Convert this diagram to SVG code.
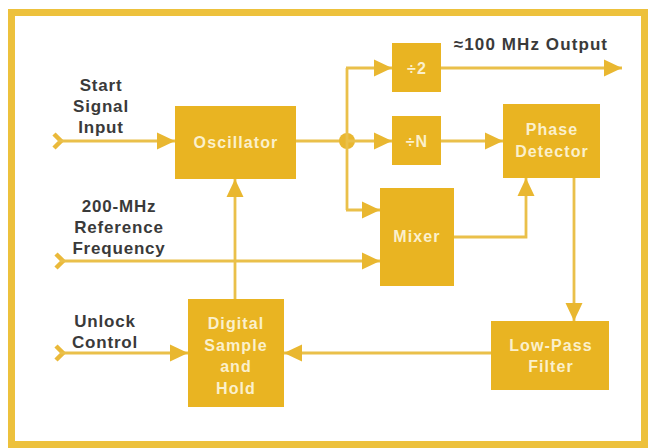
<svg xmlns="http://www.w3.org/2000/svg" width="653" height="448" viewBox="0 0 653 448">
<defs>
<style>
.box{fill:#E9B422;}
.bt{font-family:"Liberation Sans",Arial,sans-serif;font-weight:bold;font-size:16px;fill:#FBF0CC;text-anchor:middle;letter-spacing:1.1px;}
.lb{font-family:"Liberation Sans",Arial,sans-serif;font-weight:bold;font-size:17px;fill:#3A3A3A;text-anchor:middle;letter-spacing:0.8px;}
.ln{fill:none;stroke:#EAC04A;stroke-width:2.8;}
.chev{fill:none;stroke:#EAB93A;stroke-width:4.5;stroke-linejoin:miter;}
</style>
<marker id="ah" markerUnits="userSpaceOnUse" markerWidth="20" markerHeight="20" viewBox="0 0 20 20" refX="18" refY="10" orient="auto">
<path d="M0,1.5 L18,10 L0,18.5 Z" fill="#E9B730"/>
</marker>
</defs>
<rect x="0" y="0" width="653" height="448" fill="#FFFFFF"/>
<rect x="11.5" y="12.5" width="633" height="432" fill="#FFFFFF" stroke="#EDC13C" stroke-width="7"/>

<g id="connectors">
<polyline class="chev" points="54,134 61,141 54,148"/>
<line class="ln" x1="58" y1="141" x2="175" y2="141" marker-end="url(#ah)"/>
<line class="ln" x1="296" y1="141" x2="347" y2="141"/>
<circle cx="347" cy="141" r="8" fill="#E9B730"/>
<line class="ln" x1="347" y1="68" x2="347" y2="210"/>
<line class="ln" x1="346" y1="68" x2="392" y2="68" marker-end="url(#ah)"/>
<line class="ln" x1="347" y1="141" x2="392" y2="141" marker-end="url(#ah)"/>
<line class="ln" x1="346" y1="210" x2="380" y2="210" marker-end="url(#ah)"/>
<line class="ln" x1="441" y1="68" x2="622" y2="68" marker-end="url(#ah)"/>
<line class="ln" x1="441" y1="141" x2="503" y2="141" marker-end="url(#ah)"/>
<polyline class="ln" points="454,237 526,237 526,178" marker-end="url(#ah)"/>
<line class="ln" x1="574" y1="178" x2="574" y2="321" marker-end="url(#ah)"/>
<line class="ln" x1="491" y1="353" x2="284" y2="353" marker-end="url(#ah)"/>
<polyline class="chev" points="56,346 63,353 56,360"/>
<line class="ln" x1="60" y1="353" x2="188" y2="353" marker-end="url(#ah)"/>
<line class="ln" x1="235" y1="299" x2="235" y2="179" marker-end="url(#ah)"/>
<polyline class="chev" points="56,254 63,261 56,268"/>
<line class="ln" x1="60" y1="261" x2="380" y2="261" marker-end="url(#ah)"/>
</g>

<g id="labels">
<text class="lb" x="101" y="91">Start</text>
<text class="lb" x="101" y="112">Signal</text>
<text class="lb" x="101" y="133">Input</text>
<text class="lb" x="119" y="212">200-MHz</text>
<text class="lb" x="119" y="233">Reference</text>
<text class="lb" x="119" y="254">Frequency</text>
<text class="lb" x="105" y="327">Unlock</text>
<text class="lb" x="105" y="348">Control</text>
<text class="lb" x="531" y="50" style="letter-spacing:1.1px">≈100 MHz Output</text>
</g>

<g id="oscillator">
<rect class="box" x="175" y="106" width="121" height="73"/>
<text class="bt" x="236" y="148">Oscillator</text>
</g>
<g id="div2">
<rect class="box" x="392" y="43" width="49" height="49"/>
<text class="bt" x="417" y="74">÷2</text>
</g>
<g id="divN">
<rect class="box" x="392" y="116" width="49" height="49"/>
<text class="bt" x="417" y="147">÷N</text>
</g>
<g id="phase-detector">
<rect class="box" x="503" y="104" width="97" height="74"/>
<text class="bt" x="552" y="135">Phase</text>
<text class="bt" x="552" y="157">Detector</text>
</g>
<g id="mixer">
<rect class="box" x="380" y="188" width="74" height="98"/>
<text class="bt" x="417" y="242">Mixer</text>
</g>
<g id="low-pass-filter">
<rect class="box" x="491" y="321" width="118" height="69"/>
<text class="bt" x="551" y="351">Low-Pass</text>
<text class="bt" x="551" y="372">Filter</text>
</g>
<g id="sample-hold">
<rect class="box" x="188" y="299" width="96" height="108"/>
<text class="bt" x="236" y="329">Digital</text>
<text class="bt" x="236" y="351">Sample</text>
<text class="bt" x="236" y="372">and</text>
<text class="bt" x="236" y="394">Hold</text>
</g>
</svg>
